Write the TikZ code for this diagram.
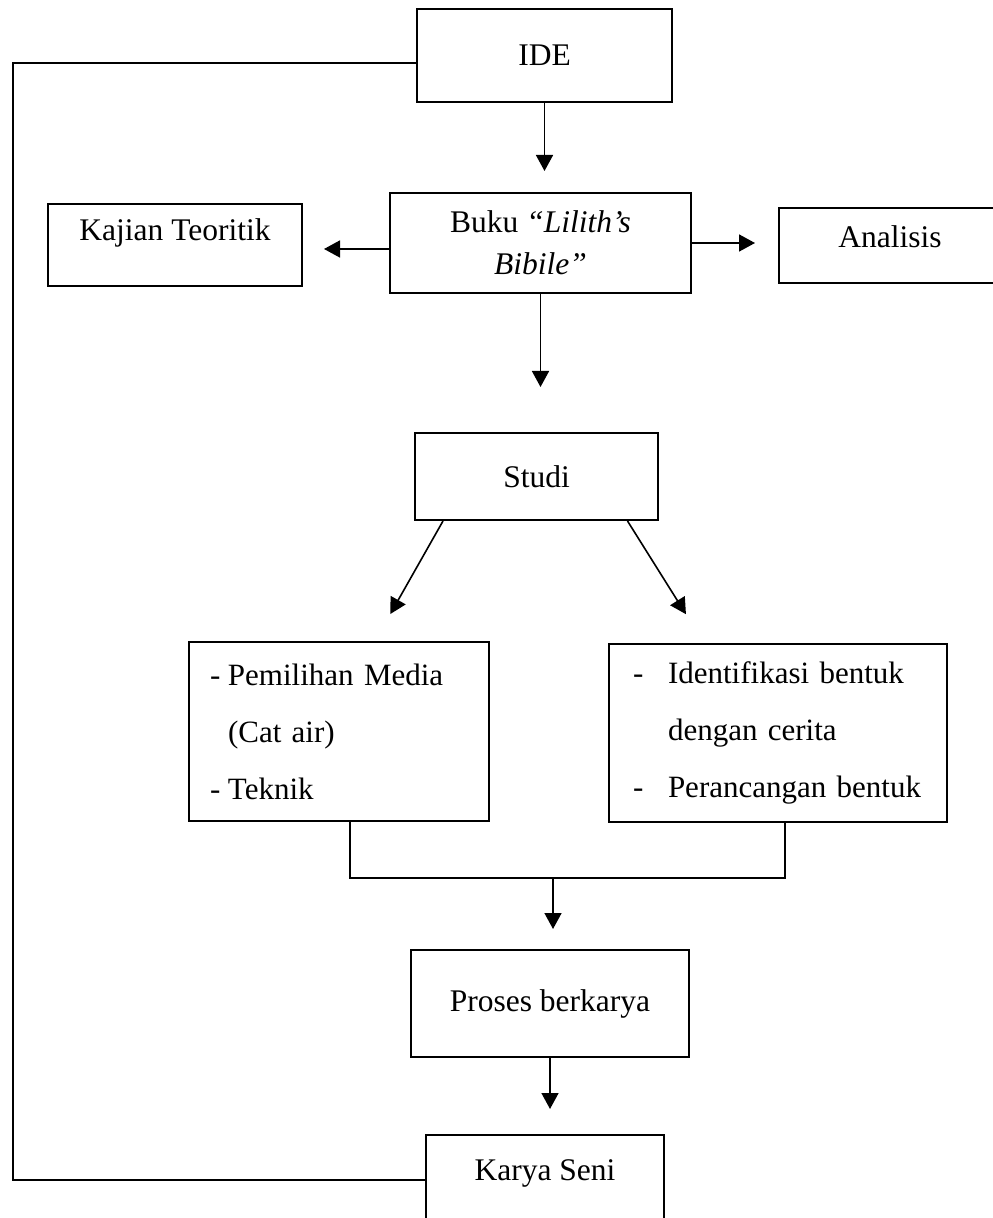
\documentclass[tikz,border=0pt]{standalone}
\usepackage{fontspec}
\setmainfont{Liberation Serif}
\usetikzlibrary{arrows.meta}

\newcommand{\strich}[1]{\makebox[#1][l]{-}}

\tikzset{
	kasten/.style={draw, line width=1pt, inner sep=0pt, font=\fontsize{15.75pt}{21pt}\selectfont},
	liste/.style={align=left, font=\fontsize{15.5pt}{28.5pt}\selectfont},
	pfeil/.style={line width=0.8pt, -{Triangle[length=8pt,width=8.5pt]}},
	linie/.style={line width=0.8pt},
}

\begin{document}
\begin{tikzpicture}[x=0.5pt, y=-0.5pt]
	\useasboundingbox (0,0) rectangle (992,1218); % Rand wie Vorlage
	
	\node[kasten, minimum width=127.5pt, minimum height=46.5pt] (ide) at (544.5,55.5) {IDE};
	\node[kasten, minimum width=150.5pt, minimum height=50pt, align=center] (buku) at (540.5,243) {Buku \textit{“Lilith’s}\\\textit{Bibile”}};
	\node[kasten, minimum width=127pt, minimum height=41pt, text depth=15.4pt] (kajian) at (175,245) {Kajian Teoritik};
	\node[kasten, minimum width=111pt, minimum height=37.5pt, text depth=8.5pt] (analisis) at (890,245.5) {Analisis};
	\node[kasten, minimum width=121.5pt, minimum height=43.5pt] (studi) at (536.5,476.5) {Studi};
	
	\node[kasten, liste, minimum width=150pt, minimum height=89.5pt, text width=129pt] (media) at (339,731.5)
		{\strich{9pt}Pemilihan Media\\\hspace*{9pt}(Cat air)\\\strich{9pt}Teknik};
	\node[kasten, liste, minimum width=169pt, minimum height=89pt, text width=145pt] (bentuk) at (778,733)
		{\strich{17.5pt}Identifikasi bentuk\\\hspace*{17.5pt}dengan cerita\\\strich{17.5pt}Perancangan bentuk};
	
	\node[kasten, minimum width=139pt, minimum height=53.5pt] (proses) at (550,1003.5) {Proses berkarya};
	\node[kasten, minimum width=119pt, minimum height=45pt, text depth=10.4pt] (karya) at (545,1180) {Karya Seni};
	
	\coordinate (mitte) at (553,878);
	\coordinate (rueck) at (13,1180);
	
	\draw[pfeil, shorten >=10.5pt] (ide.south) -- (ide.south |- buku.north);
	\draw[pfeil, shorten >=10.5pt] ([yshift=-3pt]buku.west) -- ([yshift=-3pt]buku.west -| kajian.east);
	\draw[pfeil, shorten >=11.5pt] (buku.east) -- (buku.east -| analisis.west);
	\draw[pfeil, shorten >=22.5pt] (buku.south) -- (buku.south |- studi.north);
	
	\draw[pfeil, shorten >=15.5pt] ([xshift=14.5pt]studi.south west) -- ([xshift=18pt]media.north);
	\draw[pfeil, shorten >=17pt] ([xshift=-15.75pt]studi.south east) -- ([xshift=-37pt]bentuk.north);
	
	\draw[linie] ([xshift=5.5pt]media.south) |- (mitte) -| ([xshift=3.5pt]bentuk.south);
	\draw[pfeil, shorten >=10pt] (mitte) -- (mitte |- proses.north);
	\draw[pfeil, shorten >=12.5pt] (proses.south) -- (proses.south |- karya.north);
	
	% Rueckkopplung zur Idee
	\draw[linie] ([yshift=-3.75pt]ide.west) -| (rueck) -- (karya.west);
\end{tikzpicture}
\end{document}
